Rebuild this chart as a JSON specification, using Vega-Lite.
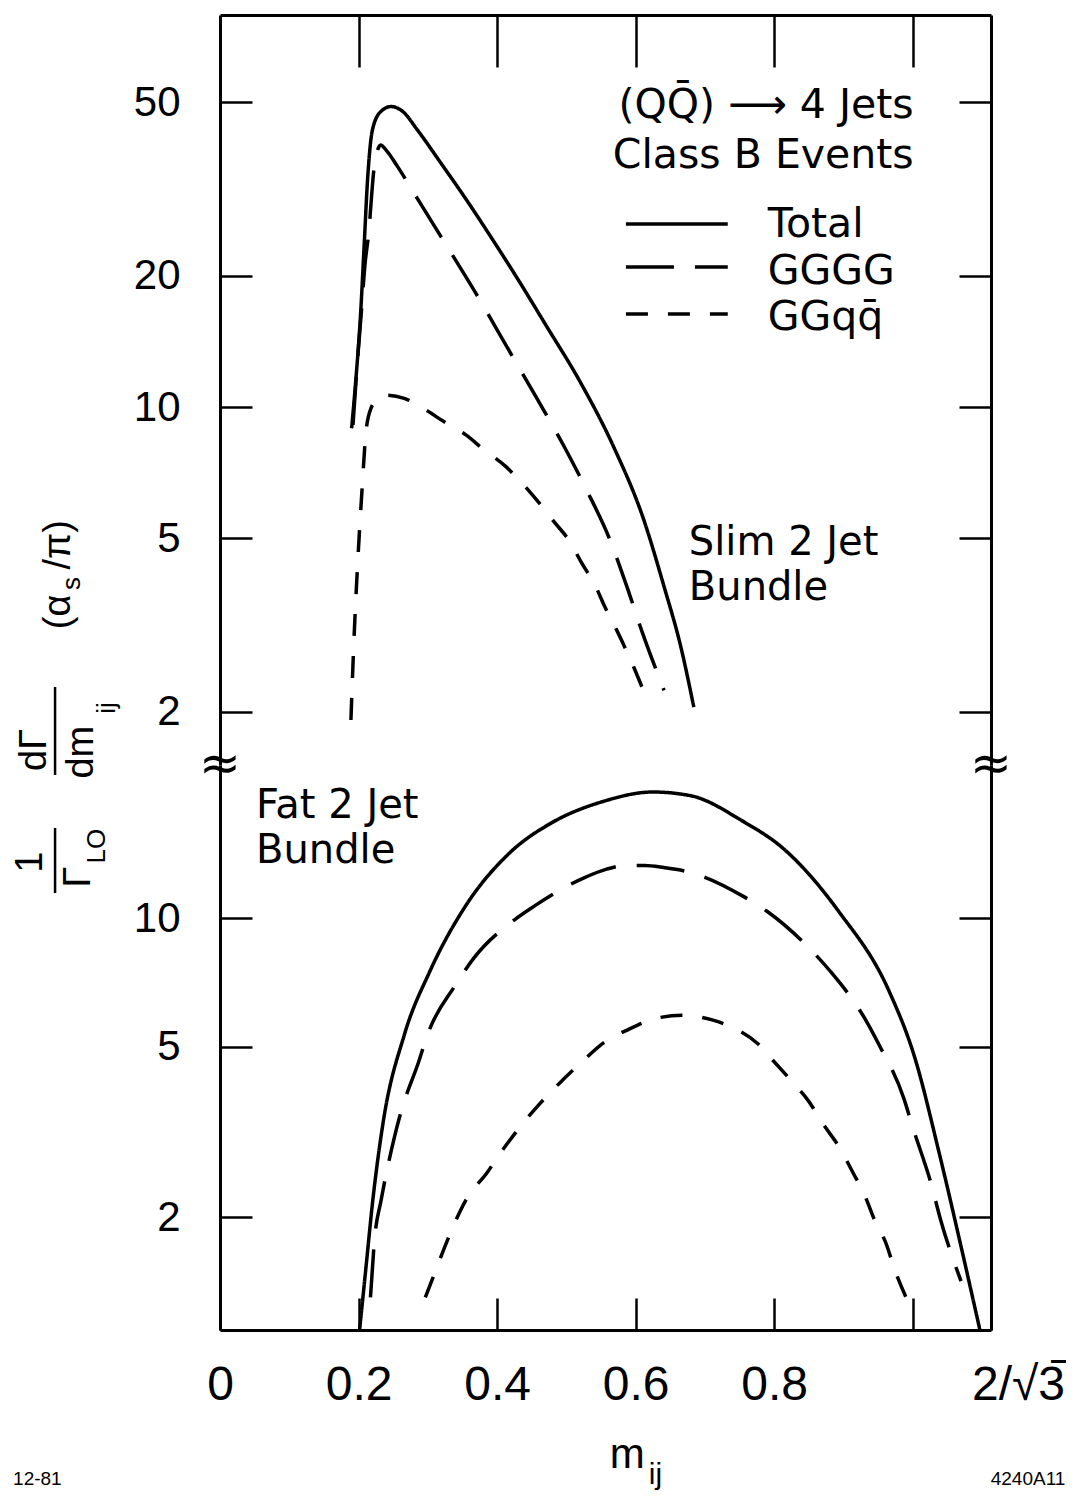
{
  "$schema": "https://vega.github.io/schema/vega-lite/v6.json",
  "background": "white",
  "padding": {"left": 12, "top": 13, "right": 0, "bottom": 0},
  "bounds": "flush",
  "spacing": 0,
  "config": {
    "view": {"stroke": null},
    "font": "Liberation Sans",
    "text": {"font": "Liberation Sans", "color": "black"},
    "axis": {
      "domainColor": "black", "domainWidth": 3,
      "tickColor": "black", "tickWidth": 2.5, "tickSize": -32,
      "labelColor": "black", "labelFont": "Liberation Sans",
      "grid": false, "labelFlush": false, "labelOverlap": false
    }
  },
  "datasets": {
    "slim": [
      {"s": "Total", "m": 0.190, "v": 8.94}, {"s": "Total", "m": 0.196, "v": 11.5}, {"s": "Total", "m": 0.203, "v": 16.4},
      {"s": "Total", "m": 0.208, "v": 23.3}, {"s": "Total", "m": 0.213, "v": 33.2}, {"s": "Total", "m": 0.220, "v": 43.2},
      {"s": "Total", "m": 0.232, "v": 47.6}, {"s": "Total", "m": 0.247, "v": 48.9}, {"s": "Total", "m": 0.264, "v": 47.6},
      {"s": "Total", "m": 0.285, "v": 43.2}, {"s": "Total", "m": 0.3189, "v": 36.27}, {"s": "Total", "m": 0.355, "v": 30.0},
      {"s": "Total", "m": 0.3911, "v": 24.55}, {"s": "Total", "m": 0.4271, "v": 19.98}, {"s": "Total", "m": 0.4704, "v": 15.42},
      {"s": "Total", "m": 0.5209, "v": 11.35}, {"s": "Total", "m": 0.5685, "v": 8.09}, {"s": "Total", "m": 0.6118, "v": 5.51},
      {"s": "Total", "m": 0.6407, "v": 3.89}, {"s": "Total", "m": 0.6652, "v": 2.82}, {"s": "Total", "m": 0.684, "v": 2.05},
      {"s": "GGGG", "m": 0.192, "v": 9.1}, {"s": "GGGG", "m": 0.198, "v": 12.5}, {"s": "GGGG", "m": 0.204, "v": 16.5},
      {"s": "GGGG", "m": 0.209, "v": 21.0}, {"s": "GGGG", "m": 0.2155, "v": 25.9}, {"s": "GGGG", "m": 0.218, "v": 29.3},
      {"s": "GGGG", "m": 0.2227, "v": 35.6}, {"s": "GGGG", "m": 0.232, "v": 39.9}, {"s": "GGGG", "m": 0.2395, "v": 38.9},
      {"s": "GGGG", "m": 0.2564, "v": 35.6}, {"s": "GGGG", "m": 0.2804, "v": 30.9}, {"s": "GGGG", "m": 0.319, "v": 24.6},
      {"s": "GGGG", "m": 0.377, "v": 17.4}, {"s": "GGGG", "m": 0.417, "v": 13.5}, {"s": "GGGG", "m": 0.456, "v": 10.56},
      {"s": "GGGG", "m": 0.497, "v": 8.11}, {"s": "GGGG", "m": 0.528, "v": 6.51}, {"s": "GGGG", "m": 0.562, "v": 5.0},
      {"s": "GGGG", "m": 0.586, "v": 3.93}, {"s": "GGGG", "m": 0.610, "v": 3.03}, {"s": "GGGG", "m": 0.641, "v": 2.24},
      {"s": "GGq\u0071\u0304", "m": 0.189, "v": 1.915},
      {"s": "GGq\u0071\u0304", "m": 0.1934, "v": 2.93}, {"s": "GGq\u0071\u0304", "m": 0.199, "v": 4.46},
      {"s": "GGq\u0071\u0304", "m": 0.205, "v": 6.45}, {"s": "GGq\u0071\u0304", "m": 0.2107, "v": 8.76},
      {"s": "GGq\u0071\u0304", "m": 0.2179, "v": 9.93}, {"s": "GGq\u0071\u0304", "m": 0.2294, "v": 10.49},
      {"s": "GGq\u0071\u0304", "m": 0.2395, "v": 10.65}, {"s": "GGq\u0071\u0304", "m": 0.266, "v": 10.47},
      {"s": "GGq\u0071\u0304", "m": 0.2973, "v": 9.84}, {"s": "GGq\u0071\u0304", "m": 0.3237, "v": 9.25},
      {"s": "GGq\u0071\u0304", "m": 0.355, "v": 8.63}, {"s": "GGq\u0071\u0304", "m": 0.3814, "v": 7.97},
      {"s": "GGq\u0071\u0304", "m": 0.4127, "v": 7.30}, {"s": "GGq\u0071\u0304", "m": 0.4343, "v": 6.74},
      {"s": "GGq\u0071\u0304", "m": 0.4632, "v": 5.96}, {"s": "GGq\u0071\u0304", "m": 0.480, "v": 5.51},
      {"s": "GGq\u0071\u0304", "m": 0.5065, "v": 4.87}, {"s": "GGq\u0071\u0304", "m": 0.521, "v": 4.42},
      {"s": "GGq\u0071\u0304", "m": 0.5426, "v": 3.87}, {"s": "GGq\u0071\u0304", "m": 0.5545, "v": 3.51},
      {"s": "GGq\u0071\u0304", "m": 0.5739, "v": 3.05}, {"s": "GGq\u0071\u0304", "m": 0.5978, "v": 2.52},
      {"s": "GGq\u0071\u0304", "m": 0.6195, "v": 2.07}
    ],
    "fat": [
      {"s": "Total", "m": 0.2015, "v": 1.09}, {"s": "Total", "m": 0.2111, "v": 1.548}, {"s": "Total", "m": 0.2202, "v": 2.163},
      {"s": "Total", "m": 0.2355, "v": 3.33}, {"s": "Total", "m": 0.266, "v": 5.33}, {"s": "Total", "m": 0.3025, "v": 7.48},
      {"s": "Total", "m": 0.3512, "v": 10.47}, {"s": "Total", "m": 0.4182, "v": 14.2}, {"s": "Total", "m": 0.479, "v": 16.7},
      {"s": "Total", "m": 0.552, "v": 18.7}, {"s": "Total", "m": 0.625, "v": 19.7}, {"s": "Total", "m": 0.680, "v": 19.3},
      {"s": "Total", "m": 0.753, "v": 16.9}, {"s": "Total", "m": 0.8139, "v": 14.5}, {"s": "Total", "m": 0.893, "v": 10.37},
      {"s": "Total", "m": 0.966, "v": 6.74}, {"s": "Total", "m": 1.0026, "v": 4.74}, {"s": "Total", "m": 1.039, "v": 2.79},
      {"s": "Total", "m": 1.0697, "v": 1.71}, {"s": "Total", "m": 1.097, "v": 1.09},
      {"s": "GGGG", "m": 0.2172, "v": 1.299}, {"s": "GGGG", "m": 0.2234, "v": 1.795}, {"s": "GGGG", "m": 0.2325, "v": 2.19},
      {"s": "GGGG", "m": 0.2506, "v": 3.02}, {"s": "GGGG", "m": 0.2599, "v": 3.46}, {"s": "GGGG", "m": 0.2873, "v": 4.64},
      {"s": "GGGG", "m": 0.2994, "v": 5.33}, {"s": "GGGG", "m": 0.339, "v": 6.94}, {"s": "GGGG", "m": 0.3664, "v": 8.06},
      {"s": "GGGG", "m": 0.4242, "v": 9.88}, {"s": "GGGG", "m": 0.4547, "v": 10.69}, {"s": "GGGG", "m": 0.5247, "v": 12.40},
      {"s": "GGGG", "m": 0.5582, "v": 13.01}, {"s": "GGGG", "m": 0.5859, "v": 13.26}, {"s": "GGGG", "m": 0.613, "v": 13.26},
      {"s": "GGGG", "m": 0.6404, "v": 13.12}, {"s": "GGGG", "m": 0.680, "v": 12.77}, {"s": "GGGG", "m": 0.7561, "v": 11.22},
      {"s": "GGGG", "m": 0.7896, "v": 10.37}, {"s": "GGGG", "m": 0.8473, "v": 8.61}, {"s": "GGGG", "m": 0.881, "v": 7.51},
      {"s": "GGGG", "m": 0.9326, "v": 5.76}, {"s": "GGGG", "m": 0.951, "v": 5.07}, {"s": "GGGG", "m": 0.9874, "v": 3.78},
      {"s": "GGGG", "m": 0.9996, "v": 3.26}, {"s": "GGGG", "m": 1.027, "v": 2.38}, {"s": "GGGG", "m": 1.0392, "v": 2.0},
      {"s": "GGGG", "m": 1.0697, "v": 1.418},
      {"s": "GGq\u0071\u0304", "m": 0.2964, "v": 1.299}, {"s": "GGq\u0071\u0304", "m": 0.3115, "v": 1.503},
      {"s": "GGq\u0071\u0304", "m": 0.3268, "v": 1.742}, {"s": "GGq\u0071\u0304", "m": 0.3573, "v": 2.227},
      {"s": "GGq\u0071\u0304", "m": 0.3847, "v": 2.53}, {"s": "GGq\u0071\u0304", "m": 0.4059, "v": 2.84},
      {"s": "GGq\u0071\u0304", "m": 0.4364, "v": 3.30}, {"s": "GGq\u0071\u0304", "m": 0.4608, "v": 3.67},
      {"s": "GGq\u0071\u0304", "m": 0.4912, "v": 4.13}, {"s": "GGq\u0071\u0304", "m": 0.5186, "v": 4.55},
      {"s": "GGq\u0071\u0304", "m": 0.5582, "v": 5.17}, {"s": "GGq\u0071\u0304", "m": 0.5886, "v": 5.48},
      {"s": "GGq\u0071\u0304", "m": 0.6281, "v": 5.82}, {"s": "GGq\u0071\u0304", "m": 0.6678, "v": 5.93},
      {"s": "GGq\u0071\u0304", "m": 0.7104, "v": 5.78}, {"s": "GGq\u0071\u0304", "m": 0.7408, "v": 5.54},
      {"s": "GGq\u0071\u0304", "m": 0.7773, "v": 5.07}, {"s": "GGq\u0071\u0304", "m": 0.7987, "v": 4.64},
      {"s": "GGq\u0071\u0304", "m": 0.8291, "v": 4.09}, {"s": "GGq\u0071\u0304", "m": 0.8473, "v": 3.78},
      {"s": "GGq\u0071\u0304", "m": 0.8747, "v": 3.23}, {"s": "GGq\u0071\u0304", "m": 0.8931, "v": 2.93},
      {"s": "GGq\u0071\u0304", "m": 0.9144, "v": 2.53}, {"s": "GGq\u0071\u0304", "m": 0.9296, "v": 2.27},
      {"s": "GGq\u0071\u0304", "m": 0.9479, "v": 1.92}, {"s": "GGq\u0071\u0304", "m": 0.96, "v": 1.76},
      {"s": "GGq\u0071\u0304", "m": 0.9753, "v": 1.488}, {"s": "GGq\u0071\u0304", "m": 0.9965, "v": 1.236}
    ],
    "key": [
      {"s": "Total", "m": 0.586, "m2": 0.733, "v": 26.3},
      {"s": "GGGG", "m": 0.586, "m2": 0.733, "v": 20.95},
      {"s": "GGq\u0071\u0304", "m": 0.586, "m2": 0.733, "v": 16.35}
    ],
    "head": [
      {"m": 1.0014, "v": 46.0, "t": "(QQ\u0304) \u27f6 4 Jets\nClass B Events"}
    ],
    "keyLabels": [
      {"m": 0.7908, "v": 24.54, "t": "Total\nGGGG\nGGq\u0071\u0304"}
    ],
    "slimNote": [
      {"m": 0.6768, "v": 4.58, "t": "Slim 2 Jet\nBundle"}
    ],
    "fatNote": [
      {"m": 0.052, "v": 17.13, "t": "Fat 2 Jet\nBundle"}
    ],
    "ytitleBig": [
      {"m": -0.2323, "v": 51.9, "t": "(\u03b1"},
      {"m": -0.2323, "v": 74.5, "t": "/\u03c0)"},
      {"m": -0.2670, "v": 24.7, "t": "d\u0393"},
      {"m": -0.1991, "v": 24.4, "t": "dm"},
      {"m": -0.2727, "v": 13.51, "t": "1"},
      {"m": -0.2035, "v": 12.47, "t": "\u0393"}
    ],
    "ytitleSmall": [
      {"m": -0.2136, "v": 60.5, "t": "s"},
      {"m": -0.1631, "v": 30.95, "t": "ij"},
      {"m": -0.1775, "v": 14.73, "t": "LO"}
    ],
    "ytitleBars": [
      {"m": -0.2381, "v": 34.65, "v2": 21.59},
      {"m": -0.2381, "v": 16.23, "v2": 11.44}
    ],
    "breaks": [
      {"m": 0, "v": 22.78, "t": "\u2248"},
      {"m": 1.113, "v": 22.78, "t": "\u2248"}
    ],
    "xtitleMain": [{"m": 0.5628, "v": 0.5188, "t": "m"}],
    "xtitleSub": [{"m": 0.619, "v": 0.476, "t": "ij"}],
    "ids": [
      {"m": -0.2987, "v": 0.4733, "t": "12-81"},
      {"m": 1.1126, "v": 0.4733, "t": "4240A11"}
    ]
  },
  "vconcat": [
    {
      "width": 771,
      "height": 750,
      "layer": [
        {
          "data": {"name": "slim"},
          "mark": {"type": "line", "interpolate": "monotone", "strokeWidth": 3.5, "color": "black", "clip": true},
          "encoding": {
            "x": {"field": "m", "type": "quantitative", "scale": {"domain": [0, 1.113], "nice": false, "zero": false},
                  "axis": {"orient": "top", "values": [0.2, 0.4, 0.6, 0.8, 1.0], "labels": false, "tickSize": -52, "title": null}},
            "y": {"field": "v", "type": "quantitative", "scale": {"type": "log", "domain": [1.51, 79.3], "nice": false},
                  "axis": {"orient": "left", "values": [2, 5, 10, 20, 50], "format": "d", "labelFontSize": 42, "labelPadding": 72, "title": null}},
            "strokeDash": {"field": "s", "type": "nominal",
                           "scale": {"domain": ["Total", "GGGG", "GGq\u0071\u0304"], "range": [[1, 0], [48, 21], [22, 20]]},
                           "legend": null}
          }
        },
        {
          "data": {"name": "key"},
          "mark": {"type": "rule", "strokeWidth": 3.5, "color": "black"},
          "encoding": {
            "x": {"field": "m", "type": "quantitative", "axis": null},
            "x2": {"field": "m2"},
            "y": {"field": "v", "type": "quantitative",
                  "axis": {"orient": "right", "values": [2, 5, 10, 20, 50], "labels": false, "title": null}},
            "strokeDash": {"field": "s", "type": "nominal", "legend": null}
          }
        },
        {
          "data": {"name": "head"},
          "mark": {"type": "text", "align": "right", "baseline": "alphabetic", "fontSize": 41, "font": "DejaVu Sans",
                   "lineBreak": "\n", "lineHeight": 50},
          "encoding": {
            "x": {"field": "m", "type": "quantitative", "axis": null},
            "y": {"field": "v", "type": "quantitative", "axis": null},
            "text": {"field": "t"}
          }
        },
        {
          "data": {"name": "keyLabels"},
          "mark": {"type": "text", "align": "left", "baseline": "alphabetic", "fontSize": 41, "font": "DejaVu Sans",
                   "lineBreak": "\n", "lineHeight": 46.5},
          "encoding": {
            "x": {"field": "m", "type": "quantitative", "axis": null},
            "y": {"field": "v", "type": "quantitative", "axis": null},
            "text": {"field": "t"}
          }
        },
        {
          "data": {"name": "slimNote"},
          "mark": {"type": "text", "align": "left", "baseline": "alphabetic", "fontSize": 40, "font": "DejaVu Sans",
                   "lineBreak": "\n", "lineHeight": 45},
          "encoding": {
            "x": {"field": "m", "type": "quantitative", "axis": null},
            "y": {"field": "v", "type": "quantitative", "axis": null},
            "text": {"field": "t"}
          }
        }
      ],
      "resolve": {"axis": {"x": "independent", "y": "independent"}}
    },
    {
      "width": 771,
      "height": 565,
      "layer": [
        {
          "data": {"name": "fat"},
          "mark": {"type": "line", "interpolate": "monotone", "strokeWidth": 3.5, "color": "black", "clip": true},
          "encoding": {
            "x": {"field": "m", "type": "quantitative", "scale": {"domain": [0, 1.113], "nice": false, "zero": false},
                  "axis": {"orient": "bottom", "values": [0, 0.2, 0.4, 0.6, 0.8, 1.0, 1.113],
                           "labelExpr": "datum.value == 0 ? '0' : datum.value > 1.05 ? '2/\u221a3\u0305' : datum.value == 1 ? '' : format(datum.value, '.1f')",
                           "labelFontSize": 48, "labelPadding": 63,
                           "labelOffset": {"condition": {"test": "datum.value > 1.05", "value": 27}, "value": 0},
                           "title": null}},
            "y": {"field": "v", "type": "quantitative", "scale": {"type": "log", "domain": [1.09, 22.78], "nice": false},
                  "axis": {"orient": "left", "values": [2, 5, 10], "format": "d", "labelFontSize": 42, "labelPadding": 72, "title": null}},
            "strokeDash": {"field": "s", "type": "nominal",
                           "scale": {"domain": ["Total", "GGGG", "GGq\u0071\u0304"], "range": [[1, 0], [48, 21], [22, 20]]},
                           "legend": null}
          }
        },
        {
          "data": {"name": "fatNote"},
          "mark": {"type": "text", "align": "left", "baseline": "alphabetic", "fontSize": 40, "font": "DejaVu Sans",
                   "lineBreak": "\n", "lineHeight": 45},
          "encoding": {
            "x": {"field": "m", "type": "quantitative", "axis": null},
            "y": {"field": "v", "type": "quantitative",
                  "axis": {"orient": "right", "values": [2, 5, 10], "labels": false, "title": null}},
            "text": {"field": "t"}
          }
        },
        {
          "data": {"name": "ytitleBig"},
          "mark": {"type": "text", "angle": 270, "align": "center", "baseline": "middle", "fontSize": 38},
          "encoding": {
            "x": {"field": "m", "type": "quantitative", "axis": null},
            "y": {"field": "v", "type": "quantitative", "axis": null},
            "text": {"field": "t"}
          }
        },
        {
          "data": {"name": "ytitleSmall"},
          "mark": {"type": "text", "angle": 270, "align": "center", "baseline": "middle", "fontSize": 26},
          "encoding": {
            "x": {"field": "m", "type": "quantitative", "axis": null},
            "y": {"field": "v", "type": "quantitative", "axis": null},
            "text": {"field": "t"}
          }
        },
        {
          "data": {"name": "ytitleBars"},
          "mark": {"type": "rule", "strokeWidth": 2.5, "color": "black"},
          "encoding": {
            "x": {"field": "m", "type": "quantitative", "axis": null},
            "y": {"field": "v", "type": "quantitative", "axis": null},
            "y2": {"field": "v2"}
          }
        },
        {
          "data": {"name": "breaks"},
          "mark": {"type": "text", "align": "center", "baseline": "middle", "fontSize": 50, "font": "DejaVu Sans"},
          "encoding": {
            "x": {"field": "m", "type": "quantitative", "axis": null},
            "y": {"field": "v", "type": "quantitative", "axis": null},
            "text": {"field": "t"}
          }
        },
        {
          "data": {"name": "xtitleMain"},
          "mark": {"type": "text", "align": "left", "baseline": "alphabetic", "fontSize": 42},
          "encoding": {
            "x": {"field": "m", "type": "quantitative", "axis": null},
            "y": {"field": "v", "type": "quantitative", "axis": null},
            "text": {"field": "t"}
          }
        },
        {
          "data": {"name": "xtitleSub"},
          "mark": {"type": "text", "align": "left", "baseline": "alphabetic", "fontSize": 30},
          "encoding": {
            "x": {"field": "m", "type": "quantitative", "axis": null},
            "y": {"field": "v", "type": "quantitative", "axis": null},
            "text": {"field": "t"}
          }
        },
        {
          "data": {"name": "ids"},
          "mark": {"type": "text", "align": "left", "baseline": "alphabetic", "fontSize": 19},
          "encoding": {
            "x": {"field": "m", "type": "quantitative", "axis": null},
            "y": {"field": "v", "type": "quantitative", "axis": null},
            "text": {"field": "t"}
          }
        }
      ],
      "resolve": {"axis": {"x": "independent", "y": "independent"}}
    }
  ],
  "resolve": {"scale": {"x": "independent", "y": "independent"}}
}
